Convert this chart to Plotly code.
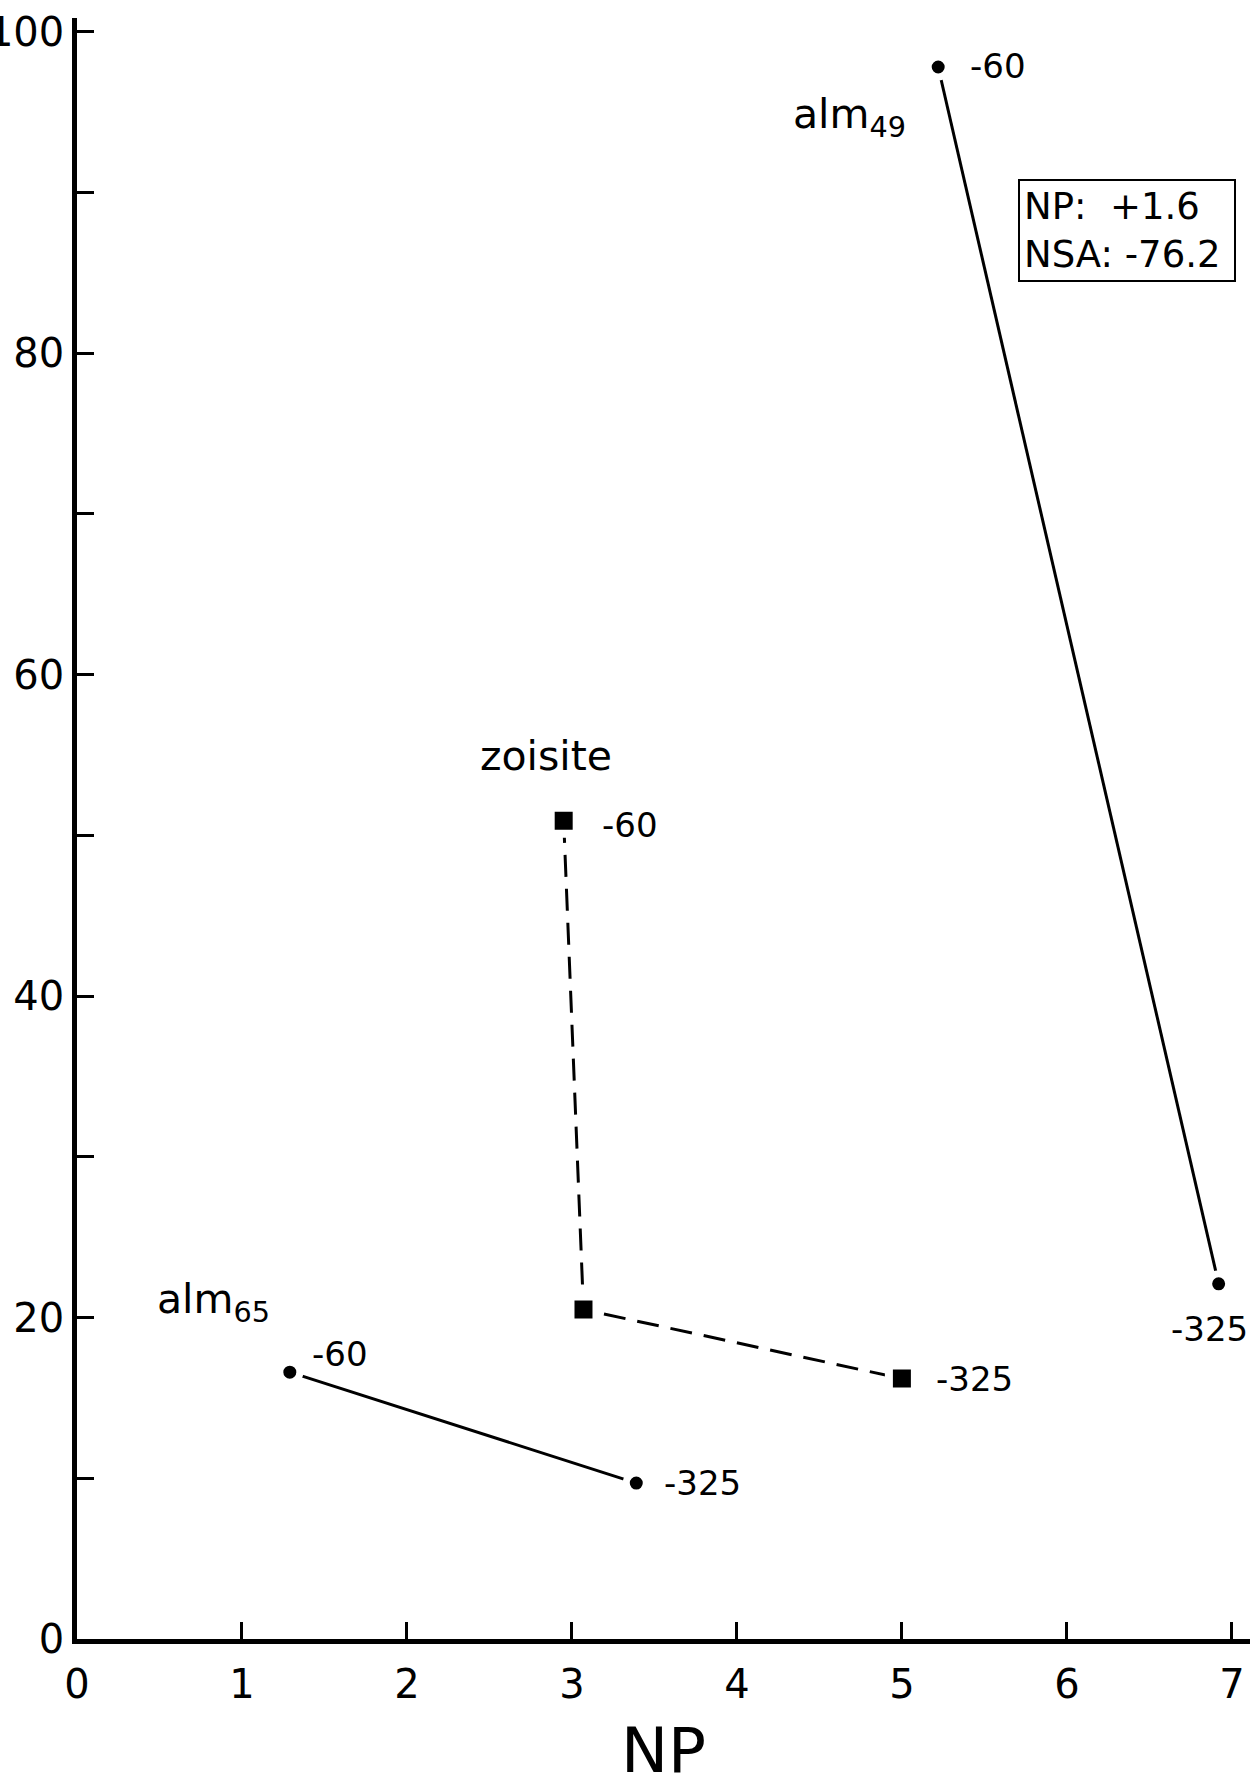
import plotly.graph_objects as go

# ---- data ----
alm49_np = [5.22, 6.92]
alm49_nsa = [97.8, 22.1]
alm49_lbl = ["-60", "-325"]

zoisite_np = [2.95, 3.07, 5.00]
zoisite_nsa = [50.9, 20.5, 16.2]
zoisite_lbl = ["-60", "", "-325"]

alm65_np = [1.29, 3.39]
alm65_nsa = [16.6, 9.7]
alm65_lbl = ["-60", "-325"]

x_ticks = [0, 1, 2, 3, 4, 5, 6, 7]
y_ticks = [0, 10, 20, 30, 40, 50, 60, 70, 80, 90, 100]
y_ticktext = ["0", "", "20", "", "40", "", "60", "", "80", "", "100"]

box_text = "NP:  +1.6<br>NSA: -76.2"

FONT = "DejaVu Sans, Verdana, sans-serif"

W, H = 1254, 1787
ML, MR, MT, MB = 77, 4, 18, 148

fig = go.Figure()

circ = dict(symbol="circle", size=20, color="black", line=dict(color="white", width=7))
sq = dict(symbol="square", size=26, color="black", line=dict(color="white", width=8))

fig.add_trace(go.Scatter(x=alm49_np, y=alm49_nsa, mode="lines+markers",
                         line=dict(color="black", width=3), marker=circ,
                         showlegend=False, hoverinfo="skip"))
fig.add_trace(go.Scatter(x=zoisite_np, y=zoisite_nsa, mode="lines+markers",
                         line=dict(color="black", width=3, dash="22px,12px"), marker=sq,
                         showlegend=False, hoverinfo="skip"))
fig.add_trace(go.Scatter(x=alm65_np, y=alm65_nsa, mode="lines+markers",
                         line=dict(color="black", width=3), marker=circ,
                         showlegend=False, hoverinfo="skip"))

lblfont = dict(family=FONT, size=34, color="black")
namefont = dict(family=FONT, size=41, color="black")

def pt_label(x, y, t, xs, ys, xa="left"):
    if t:
        fig.add_annotation(x=x, y=y, xref="x", yref="y", text=t, showarrow=False,
                           xanchor=xa, yanchor="middle", xshift=xs, yshift=ys, font=lblfont)

# alm49 labels
pt_label(alm49_np[0], alm49_nsa[0], alm49_lbl[0], 30, 1)
pt_label(alm49_np[1], alm49_nsa[1], alm49_lbl[1], -9, -45, "center")
# zoisite labels
pt_label(zoisite_np[0], zoisite_nsa[0], zoisite_lbl[0], 36, -4)
pt_label(zoisite_np[2], zoisite_nsa[2], zoisite_lbl[2], 32, 0)
# alm65 labels
pt_label(alm65_np[0], alm65_nsa[0], alm65_lbl[0], 20, 18)
pt_label(alm65_np[1], alm65_nsa[1], alm65_lbl[1], 26, 0)

# series names
fig.add_annotation(x=alm49_np[0], y=alm49_nsa[0], text="alm<sub>49</sub>", showarrow=False,
                   xanchor="right", yanchor="middle", xshift=-30, yshift=-50, font=namefont)
fig.add_annotation(x=zoisite_np[0], y=zoisite_nsa[0], text="zoisite", showarrow=False,
                   xanchor="center", yanchor="middle", xshift=-18, yshift=65, font=namefont)
fig.add_annotation(x=alm65_np[0], y=alm65_nsa[0], text="alm<sub>65</sub>", showarrow=False,
                   xanchor="right", yanchor="middle", xshift=-18, yshift=70, font=namefont)

# info box
fig.add_annotation(x=0.988, y=0.9007, xref="paper", yref="paper", text=box_text,
                   showarrow=False, xanchor="right", yanchor="top", align="left",
                   width=206, bordercolor="black", borderwidth=2, borderpad=4, bgcolor="white",
                   font=dict(family=FONT, size=37, color="black"))

fig.update_layout(
    width=W, height=H,
    margin=dict(l=ML, r=MR, t=MT, b=MB, autoexpand=False),
    paper_bgcolor="white", plot_bgcolor="white",
    font=dict(family=FONT, color="black"),
)
fig.update_xaxes(range=[0, 7.11], tickmode="array", tickvals=x_ticks,
                 ticktext=[str(v) for v in x_ticks],
                 showline=True, linecolor="black", linewidth=4.5,
                 ticks="inside", ticklen=17, tickwidth=3, tickcolor="black",
                 showgrid=False, zeroline=False,
                 tickfont=dict(family=FONT, size=40, color="black"),
                 ticklabelstandoff=6,
                 title=dict(text="NP", font=dict(family=FONT, size=63, color="black"), standoff=50),
                 automargin=False)
fig.update_yaxes(range=[0, 100.85], tickmode="array", tickvals=y_ticks, ticktext=y_ticktext,
                 showline=True, linecolor="black", linewidth=4.5,
                 ticks="inside", ticklen=17, tickwidth=3, tickcolor="black",
                 showgrid=False, zeroline=False,
                 tickfont=dict(family=FONT, size=40, color="black"),
                 ticklabelstandoff=0,
                 automargin=False)

fig.write_html("out.html", config={"displayModeBar": False},
               post_script="document.body.style.margin='0';")
